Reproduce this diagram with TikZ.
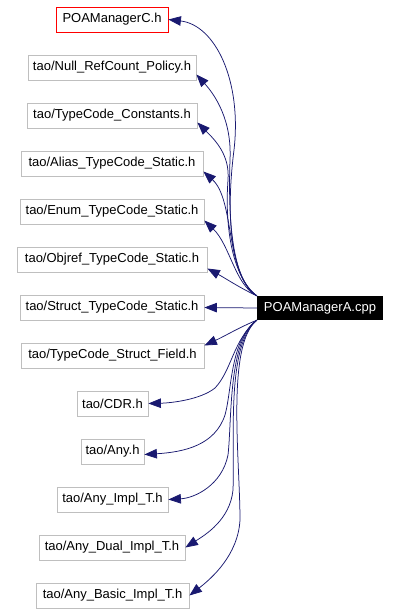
\documentclass[tikz,border=0pt]{standalone}
\usepackage{fontspec}
\setmainfont{Liberation Sans}
\usetikzlibrary{arrows.meta}
\definecolor{edgeblue}{HTML}{191970}
\definecolor{boxgray}{HTML}{BFBFBF}
\tikzset{
  hbox/.style={draw=boxgray, line width=0.8pt, minimum height=25pt, inner sep=0pt, fill=white,
    font=\fontsize{13}{15}\selectfont, text=black},
  redbox/.style={hbox, draw=red},
  mainbox/.style={fill=black, text=white, minimum height=24pt, inner sep=0pt,
    font=\fontsize{13}{15}\selectfont},
  dep/.style={draw=edgeblue, line width=0.75pt, -{Triangle[length=12.5pt,width=9.5pt]}, color=edgeblue},
}
\begin{document}
\begin{tikzpicture}[x=1pt,y=-1pt]
\useasboundingbox (0,0) rectangle (400,614);
\node[redbox, minimum width=112pt] (n1) at (112,19.5) {POAManagerC.h};
\node[hbox, minimum width=168pt] (n2) at (112,67.5) {tao/Null\_RefCount\_Policy.h};
\node[hbox, minimum width=170pt] (n3) at (112,115.5) {tao/TypeCode\_Constants.h};
\node[hbox, minimum width=182pt] (n4) at (112,163.5) {tao/Alias\_TypeCode\_Static.h};
\node[hbox, minimum width=184pt] (n5) at (112,211.5) {tao/Enum\_TypeCode\_Static.h};
\node[hbox, minimum width=190pt] (n6) at (112,259.5) {tao/Objref\_TypeCode\_Static.h};
\node[hbox, minimum width=184pt] (n7) at (112,307.5) {tao/Struct\_TypeCode\_Static.h};
\node[hbox, minimum width=183pt] (n8) at (112.5,355.5) {tao/TypeCode\_Struct\_Field.h};
\node[hbox, minimum width=71pt] (n9) at (112.5,403.5) {tao/CDR.h};
\node[hbox, minimum width=63pt] (n10) at (112.5,451.5) {tao/Any.h};
\node[hbox, minimum width=111pt] (n11) at (112.5,499.5) {tao/Any\_Impl\_T.h};
\node[hbox, minimum width=146pt] (n12) at (112,547.5) {tao/Any\_Dual\_Impl\_T.h};
\node[hbox, minimum width=153pt] (n13) at (112.5,595.5) {tao/Any\_Basic\_Impl\_T.h};
\node[mainbox, minimum width=126pt] (A) at (320,308) {POAManagerA.cpp};

\draw[dep] (A.north west) .. controls (232,280) and (225,220) .. (234,150) .. controls (242,80) and (215,25) .. (n1.east);
\draw[dep] (A.north west) .. controls (232,280) and (228,220) .. (230,160) .. controls (232,120) and (215,95) .. ([yshift=-7pt]n2.east);
\draw[dep] (A.north west) .. controls (230,275) and (225,220) .. (228,180) .. controls (230,155) and (215,140) .. ([yshift=-7pt]n3.east);
\draw[dep] (A.north west) .. controls (225,275) and (235,200) .. ([yshift=-8pt]n4.east);
\draw[dep] (A.north west) .. controls (235,285) and (230,245) .. ([yshift=-9pt]n5.east);
\draw[dep] (A.north west) .. controls (240,288) and (225,278) .. ([yshift=-9pt]n6.east);
\draw[dep] (A.west) -- (n7.east);
\draw[dep] (A.south west) .. controls (240,327) and (225,336) .. ([yshift=10pt]n8.east);
\draw[dep] (A.south west) .. controls (233,340) and (232,370) .. (215,388) .. controls (200,400) and (170,403) .. (n9.east);
\draw[dep] (A.south west) .. controls (230,340) and (232,390) .. (225,415) .. controls (215,445) and (185,452) .. ([yshift=-3pt]n10.east);
\draw[dep] (A.south west) .. controls (228,340) and (232,420) .. (228,455) .. controls (222,485) and (195,498) .. (n11.east);
\draw[dep] (A.south west) .. controls (226,345) and (235,440) .. (233,490) .. controls (230,520) and (205,535) .. (n12.east);
\draw[dep] (A.south west) .. controls (226,345) and (240,460) .. (240,520) .. controls (238,555) and (212,578) .. (n13.east);
\end{tikzpicture}
\end{document}
